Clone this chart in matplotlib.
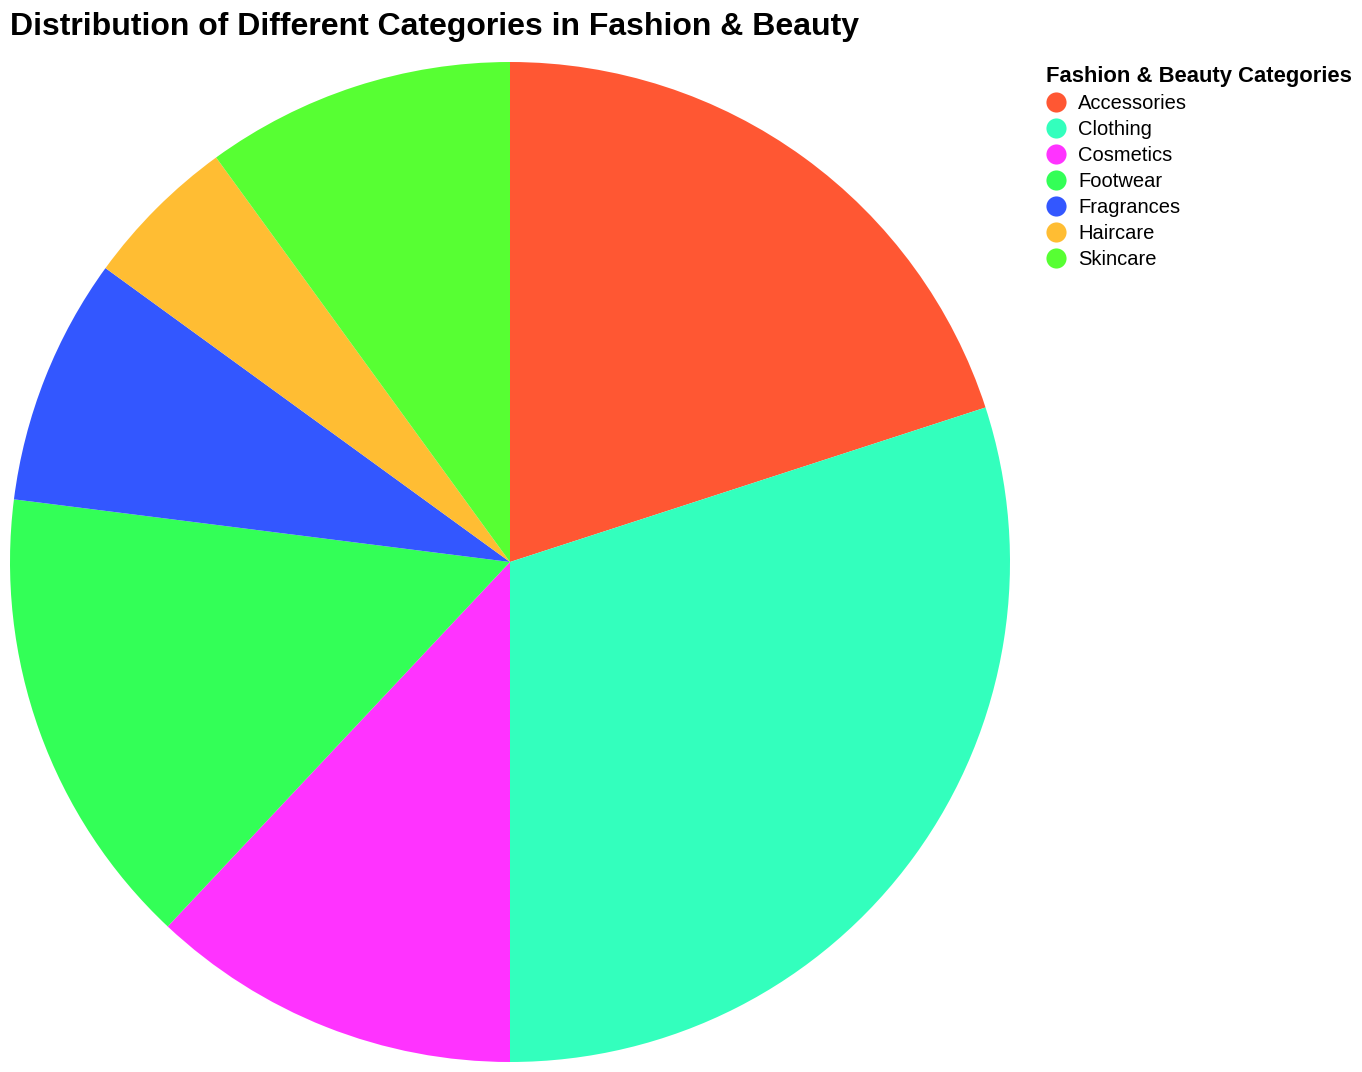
import matplotlib
matplotlib.use('Agg')
import matplotlib.pyplot as plt
from matplotlib.lines import Line2D

# 데이터 (카테고리별 비율 %)
categories = ['Accessories', 'Clothing', 'Cosmetics', 'Footwear', 'Fragrances', 'Haircare', 'Skincare']
values = [20, 30, 12, 15, 8, 5, 10]
colors = ['#FF5733', '#33FFBD', '#FF33FF', '#33FF57', '#3357FF', '#FFBD33', '#57FF33']

plt.rcParams['font.family'] = ['Liberation Sans', 'DejaVu Sans']

W, H = 1362, 1072
fig = plt.figure(figsize=(W / 100, H / 100), dpi=100)

# 파이 영역 (픽셀 기준 10~1010 , 62~1062)
ax = fig.add_axes([10 / W, (H - 1062) / H, 1000 / W, 1000 / H])
ax.pie(values, colors=colors, startangle=90, counterclock=False,
       radius=1, wedgeprops={'linewidth': 0})
ax.set_xlim(-1, 1)
ax.set_ylim(-1, 1)
ax.set_aspect('equal')
ax.axis('off')

# 제목
fig.text(10 / W, 1 - 27 / H, 'Distribution of Different Categories in Fashion & Beauty',
         fontsize=23, fontweight='bold', ha='left', va='center')

# 범례
handles = [Line2D([], [], linestyle='none', marker='o', markersize=14.5,
                  markerfacecolor=c, markeredgewidth=0) for c in colors]
leg = fig.legend(handles, categories, title='Fashion & Beauty Categories',
                 loc='upper left', bbox_to_anchor=(1038 / W, 1 - 58 / H),
                 frameon=False, fontsize=14.5, borderpad=0.4, labelspacing=0.35,
                 handlelength=1.0, handletextpad=0.6, borderaxespad=0,
                 title_fontproperties={'weight': 'bold', 'size': 15.8})
leg._legend_box.align = 'left'

fig.savefig('out.png', dpi=100)
